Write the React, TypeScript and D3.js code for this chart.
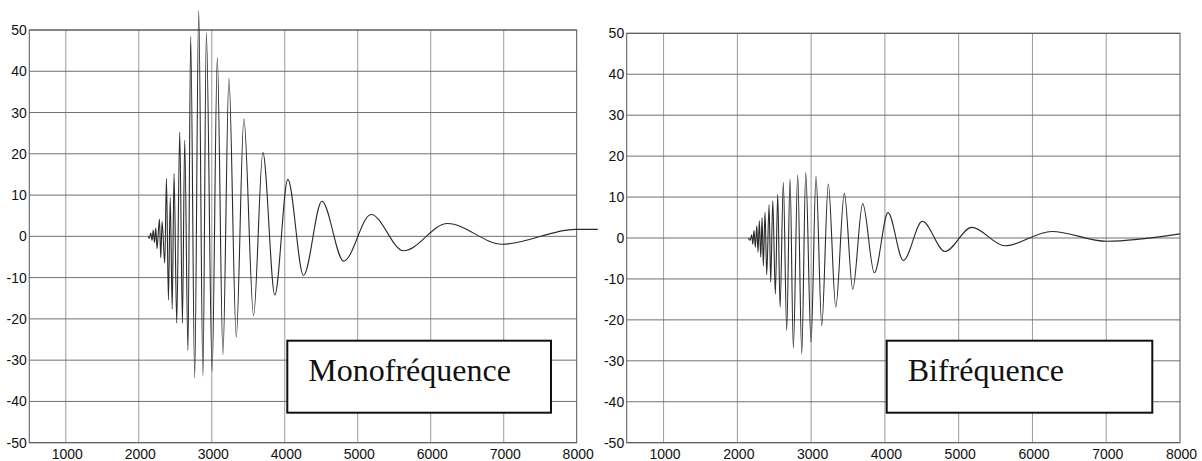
import React from "react";
import * as d3 from "d3";

// ---- data ----
const xTicks = [1000, 2000, 3000, 4000, 5000, 6000, 7000, 8000];
const yTicks = [50, 40, 30, 20, 10, 0, -10, -20, -30, -40, -50];

const monoTimes = [2127, 2144, 2164, 2182, 2198, 2216, 2233, 2250, 2283, 2301, 2319, 2356, 2379, 2406, 2431, 2458, 2483, 2520, 2561, 2598, 2629, 2674, 2711, 2766, 2821, 2879, 2926, 3005, 3076, 3153, 3235, 3336, 3440, 3573, 3700, 3864, 4042, 4257, 4509, 4807, 5182, 5628, 6229, 6982, 7985, 8290];
const monoValues = [0, -0.5, 0.8, -1, 1.5, -1.5, 2, -3, 4.2, -5.2, 3.6, -6.5, 14, -15.4, 9.4, -17.6, 15.2, -21, 25.2, -21, 23.3, -27.6, 48.4, -34.3, 54.8, -33.8, 49.4, -32.7, 43.3, -28.6, 38.3, -24.4, 28.5, -19.2, 20.3, -14.2, 13.8, -9.5, 8.5, -6, 5.3, -3.5, 3.1, -1.9, 1.7, 1.7];

const biTimes = [2149, 2172, 2195, 2209, 2226, 2244, 2263, 2280, 2298, 2317, 2335, 2352, 2375, 2398, 2430, 2452, 2480, 2515, 2547, 2579, 2623, 2669, 2714, 2759, 2818, 2873, 2927, 2999, 3066, 3144, 3233, 3334, 3450, 3564, 3699, 3857, 4042, 4250, 4507, 4814, 5176, 5627, 6260, 7005, 8000];
const biValues = [0, -0.6, 0.8, -1.5, 1.8, -2.3, 3, -3.5, 4.2, -4.7, 5, -6.8, 6.3, -9, 8.1, -10.8, 9.1, -13.7, 10.7, -16.9, 13.6, -22.6, 14.4, -26.9, 15.4, -28.3, 16, -25.5, 15, -21.4, 13.2, -16.9, 10.9, -12.5, 8.4, -8.5, 6.2, -5.5, 4.1, -3.3, 2.6, -1.9, 1.6, -0.8, 1.0];

const labels = ["Monofréquence", "Bifréquence"];
const xDomain = [500, 8000];
const yDomain = [-50, 50];

type PanelProps = {
  left: number;
  right: number;
  top: number;
  bottom: number;
  times: number[];
  values: number[];
  label: string;
  boxX: number;
  boxW: number;
};

const FONT = "'Liberation Sans', Arial, Helvetica, sans-serif";

function Panel({ left, right, top, bottom, times, values, label, boxX, boxW }: PanelProps) {
  const x = d3.scaleLinear().domain(xDomain).range([left, right]);
  const y = d3.scaleLinear().domain(yDomain).range([bottom, top]);
  const pts: [number, number][] = times.map((t, i) => [t, values[i]]);
  const line = d3
    .line<[number, number]>()
    .x((d) => x(d[0]))
    .y((d) => y(d[1]))
    .curve(d3.curveMonotoneX);
  const boxY = 340.7;
  const boxH = 72;
  return (
    <g>
      {xTicks.slice(0, -1).map((t) => (
        <line key={"vx" + t} x1={x(t)} x2={x(t)} y1={top} y2={bottom} stroke="#9a9a9a" strokeWidth={1} />
      ))}
      {yTicks.map((v) => (
        <line key={"hy" + v} x1={left} x2={right} y1={y(v)} y2={y(v)} stroke="#6f6f6f" strokeWidth={1} />
      ))}
      <rect x={left} y={top} width={right - left} height={bottom - top} fill="none" stroke="#555" strokeWidth={1} />
      <path d={line(pts) || ""} fill="none" stroke="#2a2a2a" strokeWidth={1.1} />
      {yTicks.map((v) => (
        <text
          key={"yl" + v}
          x={left - 2.5}
          y={y(v)}
          dy="0.36em"
          textAnchor="end"
          fontFamily={FONT}
          fontSize={14}
          fill="#111"
        >
          {v}
        </text>
      ))}
      {xTicks.map((t) => (
        <text
          key={"xl" + t}
          x={x(t) + 1.5}
          y={458.5}
          textAnchor="middle"
          fontFamily={FONT}
          fontSize={14}
          fill="#111"
        >
          {t}
        </text>
      ))}
      <rect x={boxX} y={boxY} width={boxW} height={boxH} fill="#fff" stroke="#111" strokeWidth={2} />
      <text
        x={boxX + 21}
        y={380.7}
        fontFamily="'Liberation Serif', 'Times New Roman', serif"
        fontSize={32}
        fill="#111"
      >
        {label}
      </text>
    </g>
  );
}

export default function App() {
  return (
    <svg
      width={1202}
      height={461}
      style={{ position: "absolute", left: 0, top: 0, background: "#fff" }}
    >
      <rect x={0} y={0} width={1202} height={461} fill="#fff" />
      <Panel
        left={29.3}
        right={576.7}
        top={30}
        bottom={442.7}
        times={monoTimes}
        values={monoValues}
        label={labels[0]}
        boxX={287.3}
        boxW={263.7}
      />
      <Panel
        left={626.7}
        right={1180}
        top={33.3}
        bottom={442.7}
        times={biTimes}
        values={biValues}
        label={labels[1]}
        boxX={886.7}
        boxW={265.6}
      />
    </svg>
  );
}
